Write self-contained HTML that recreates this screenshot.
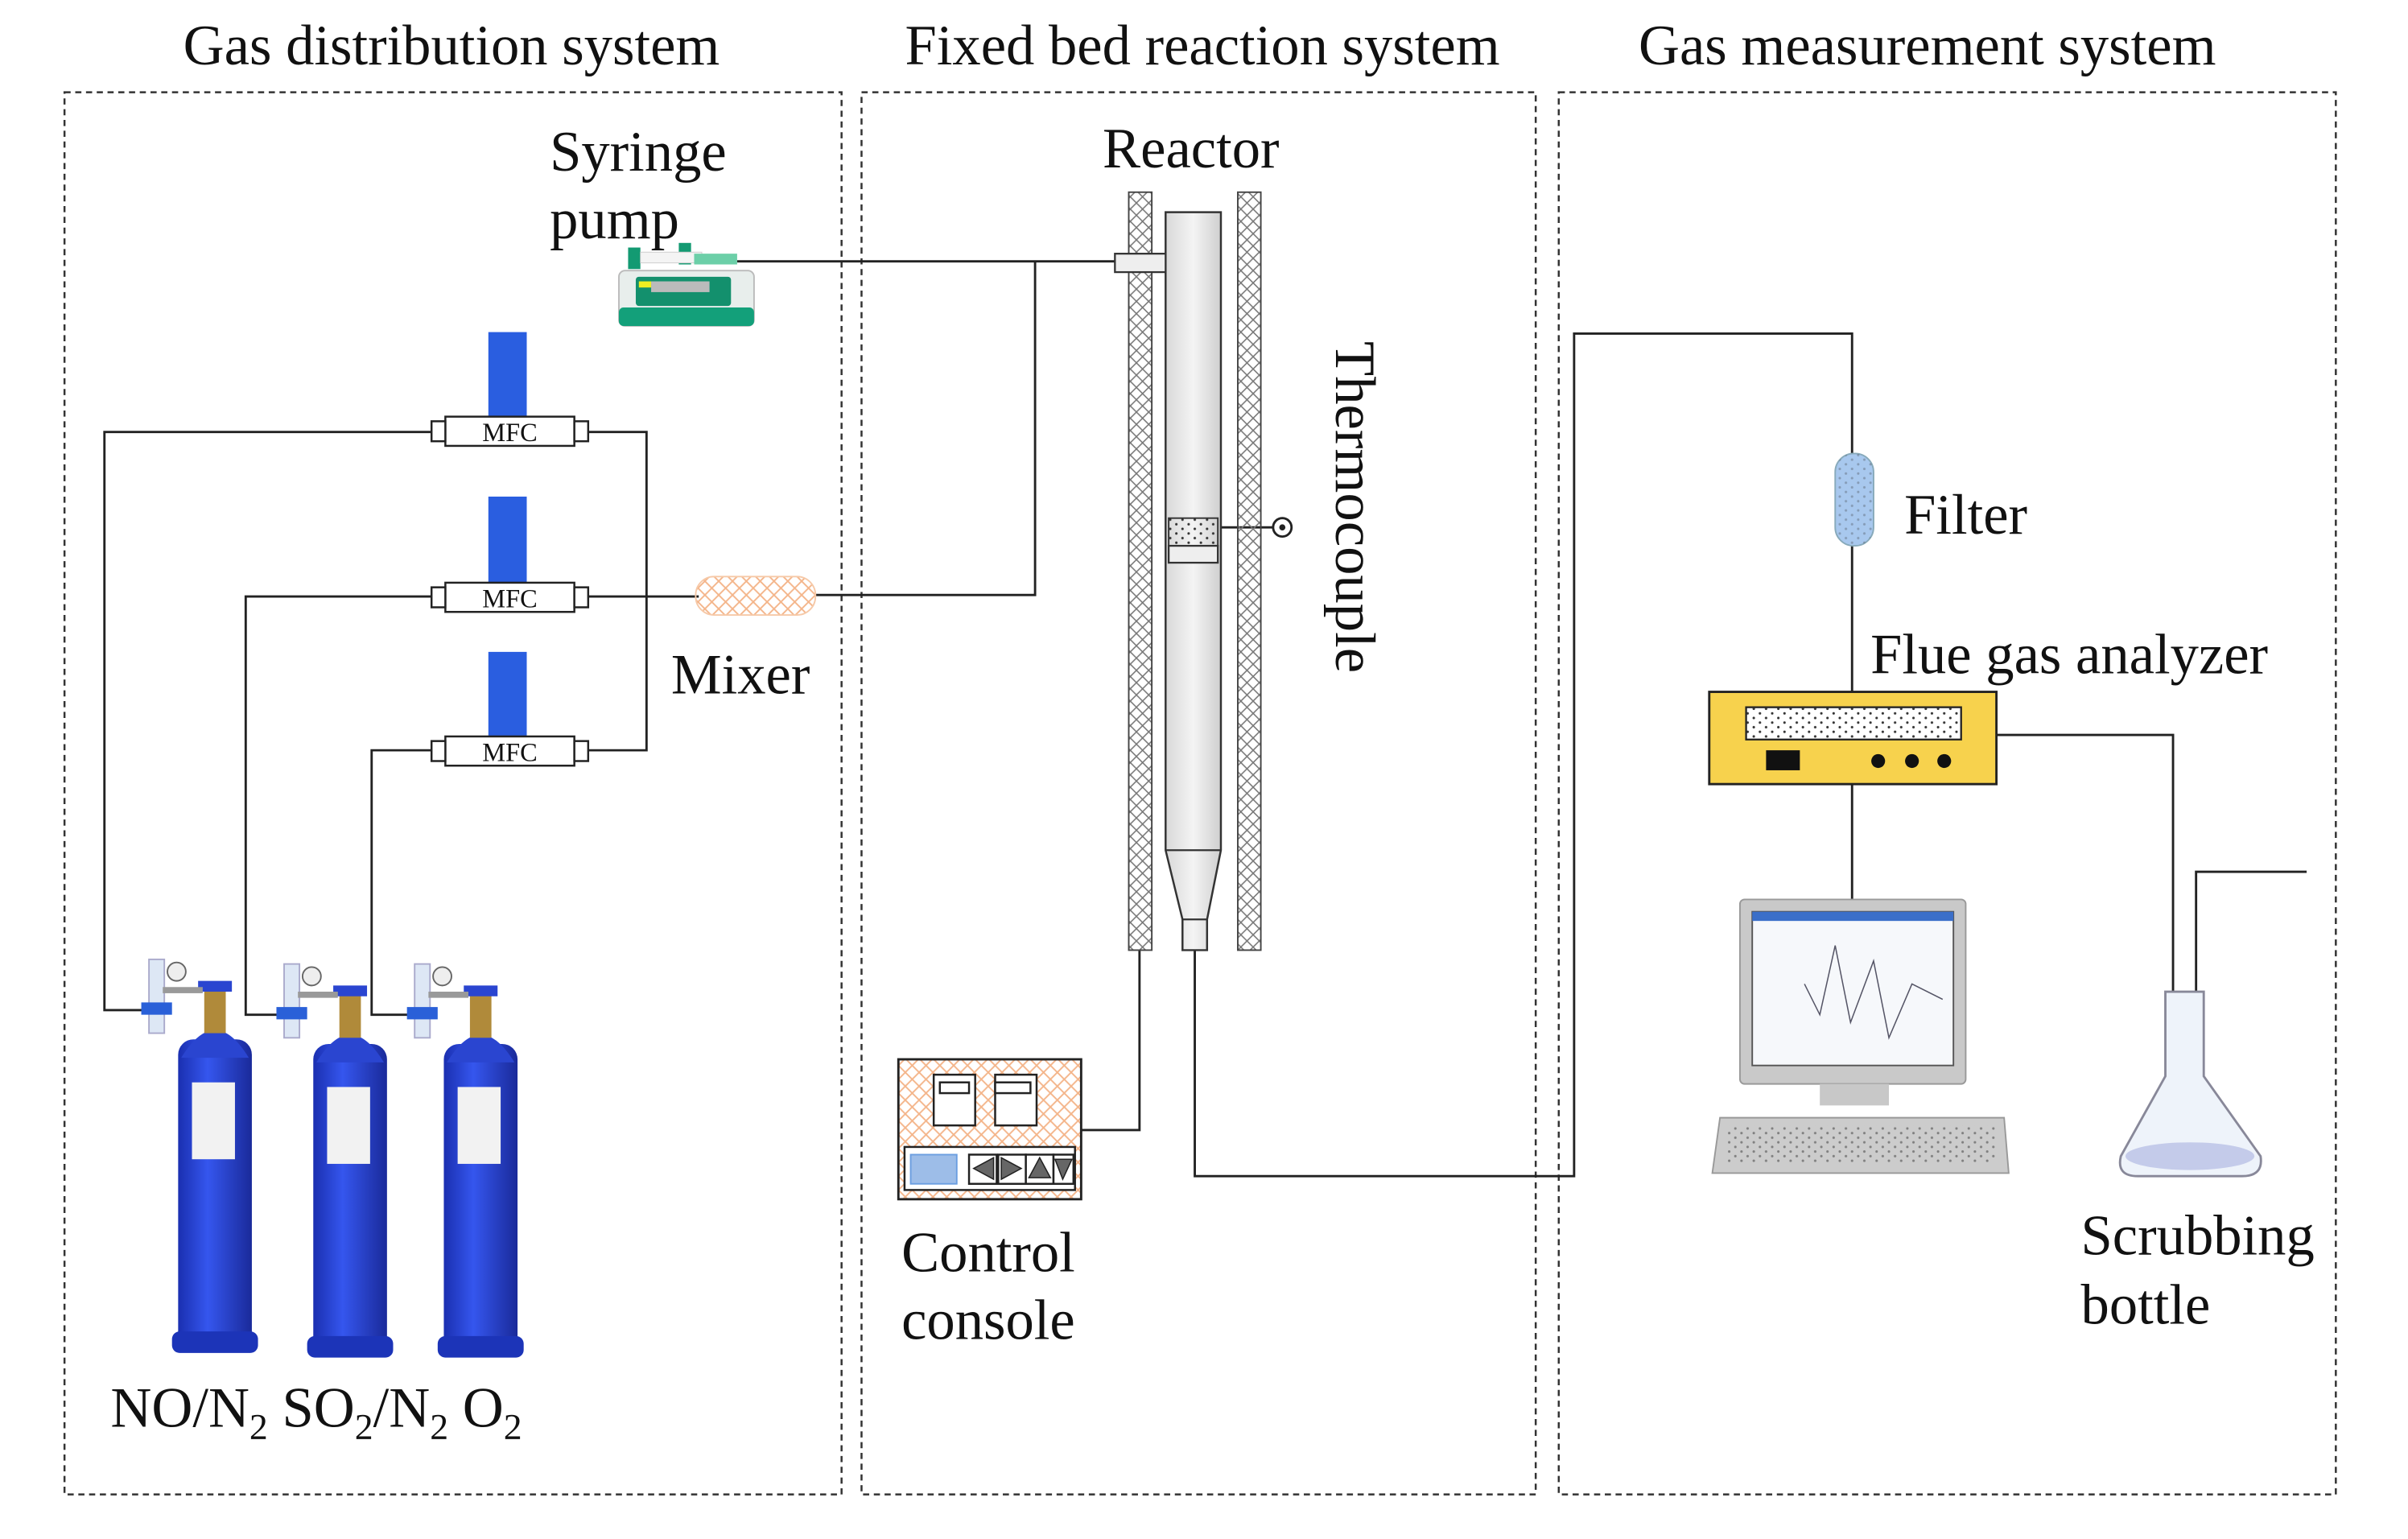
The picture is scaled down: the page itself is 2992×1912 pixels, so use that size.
<!DOCTYPE html>
<html><head><meta charset="utf-8"><style>
html,body{margin:0;padding:0;background:#fff;}
svg{display:block;}
text{font-family:"Liberation Serif",serif;fill:#111;}
</style></head><body>
<svg width="2992" height="1912" viewBox="0 0 1568 1001" preserveAspectRatio="none" xmlns="http://www.w3.org/2000/svg">
<defs>
<pattern id="hatch" width="8" height="8" patternUnits="userSpaceOnUse">
<path d="M0 0L8 8M8 0L0 8" stroke="#777" stroke-width="0.8"/>
</pattern>
<pattern id="ohatch" width="9" height="9" patternUnits="userSpaceOnUse">
<path d="M0 0L9 9M9 0L0 9" stroke="#f4b58a" stroke-width="1"/>
</pattern>
<pattern id="dots" width="8" height="6" patternUnits="userSpaceOnUse">
<circle cx="2" cy="2" r="0.8" fill="#333"/><circle cx="6" cy="5" r="0.8" fill="#333"/>
</pattern>
<linearGradient id="cyl" x1="0" x2="1">
<stop offset="0" stop-color="#1a2fb0"/><stop offset="0.4" stop-color="#3556ee"/><stop offset="1" stop-color="#1a2a9a"/>
</linearGradient>
<linearGradient id="tube" x1="0" x2="1">
<stop offset="0" stop-color="#d8d8d8"/><stop offset="0.5" stop-color="#f4f4f4"/><stop offset="1" stop-color="#cfcfcf"/>
</linearGradient>
</defs>

<g fill="none" stroke="#333" stroke-width="1.3" stroke-dasharray="4,3">
<rect x="42" y="60" width="506" height="912"/>
<rect x="561" y="60" width="439" height="912"/>
<rect x="1015" y="60" width="506" height="912"/>
</g>

<g font-size="37">
<text x="294" y="42" text-anchor="middle">Gas distribution system</text>
<text x="783" y="42" text-anchor="middle">Fixed bed reaction system</text>
<text x="1255" y="42" text-anchor="middle">Gas measurement system</text>
<text x="358" y="111">Syringe</text>
<text x="358" y="155">pump</text>
<text x="437" y="451">Mixer</text>
<text x="718" y="109">Reactor</text>
<text x="1240" y="347">Filter</text>
<text x="1218" y="438">Flue gas analyzer</text>
<text x="587" y="827">Control</text>
<text x="587" y="871">console</text>
<text x="1355" y="816">Scrubbing</text>
<text x="1355" y="861">bottle</text>
<text x="72" y="928">NO/N<tspan font-size="24" dy="8">2</tspan><tspan dy="-8"> SO</tspan><tspan font-size="24" dy="8">2</tspan><tspan dy="-8">/N</tspan><tspan font-size="24" dy="8">2</tspan><tspan dy="-8"> O</tspan><tspan font-size="24" dy="8">2</tspan></text>
<text transform="translate(870,222) rotate(90)">Thermocouple</text>
</g>

<g fill="none" stroke="#222" stroke-width="1.5">
<polyline points="281,281 68,281 68,657 100,657"/>
<polyline points="281,388 160,388 160,660 190,660"/>
<polyline points="281,488 242,488 242,660 275,660"/>
<polyline points="383,281 421,281 421,488 383,488"/>
<line x1="383" y1="388" x2="455" y2="388"/>
<polyline points="531,387 674,387 674,170"/>
<line x1="480" y1="170" x2="726" y2="170"/>
<polyline points="704,735 742,735 742,618"/>
<polyline points="778,618 778,765 1025,765 1025,217 1206,217 1206,296"/>
<line x1="1206" y1="355" x2="1206" y2="450"/>
<line x1="1206" y1="510" x2="1206" y2="585"/>
<polyline points="1300,478 1415,478 1415,690"/>
<polyline points="1430,700 1430,567 1502,567"/>
<line x1="795" y1="343" x2="830" y2="343"/>
</g>

<g stroke="#222" stroke-width="1.3">
<rect x="318" y="216" width="25" height="55" fill="#2a5ee0" stroke="none"/>
<rect x="318" y="323" width="25" height="56" fill="#2a5ee0" stroke="none"/>
<rect x="318" y="424" width="25" height="55" fill="#2a5ee0" stroke="none"/>
<g fill="#fff">
<rect x="290" y="271" width="84" height="19"/><rect x="281" y="274" width="9" height="13"/><rect x="374" y="274" width="9" height="13"/>
<rect x="290" y="379" width="84" height="19"/><rect x="281" y="382" width="9" height="13"/><rect x="374" y="382" width="9" height="13"/>
<rect x="290" y="479" width="84" height="19"/><rect x="281" y="482" width="9" height="13"/><rect x="374" y="482" width="9" height="13"/>
</g>
</g>
<g font-size="17" text-anchor="middle"><text x="332" y="287">MFC</text><text x="332" y="395">MFC</text><text x="332" y="495">MFC</text></g>

<rect x="453" y="375" width="78" height="25" rx="12" fill="url(#ohatch)" stroke="#f6c9a8" stroke-width="1"/>

<g>
<rect x="403" y="176" width="88" height="36" rx="4" fill="#e8eeec" stroke="#bbb"/>
<rect x="403" y="200" width="88" height="12" rx="3" fill="#13a07a"/>
<rect x="414" y="180" width="62" height="19" rx="2" fill="#13906d"/>
<rect x="424" y="183" width="38" height="7" fill="#bbb"/>
<rect x="416" y="183" width="8" height="4" fill="#ee2"/>
<rect x="409" y="161" width="8" height="14" fill="#139a72"/>
<rect x="442" y="158" width="8" height="14" fill="#139a72"/>
<rect x="417" y="164" width="40" height="7" fill="#f4f4f4" stroke="#ccc" stroke-width="0.5"/>
<rect x="452" y="165" width="28" height="7" fill="#6ccfa8"/>
</g>

<rect x="735" y="125" width="15" height="493" fill="url(#hatch)" stroke="#444" stroke-width="1"/>
<rect x="806" y="125" width="15" height="493" fill="url(#hatch)" stroke="#444" stroke-width="1"/>
<path d="M759 138 H795 V553 L786 598 V618 H770 V598 L759 553 Z" fill="url(#tube)" stroke="#333" stroke-width="1.3"/>
<line x1="759" y1="553" x2="795" y2="553" stroke="#333" stroke-width="1.2"/>
<line x1="770" y1="598" x2="786" y2="598" stroke="#333" stroke-width="1.2"/>
<rect x="726" y="165" width="33" height="12" fill="#eee" stroke="#333" stroke-width="1.2"/>
<rect x="761" y="337" width="32" height="18" fill="url(#dots)" stroke="#333" stroke-width="1"/>
<rect x="761" y="355" width="32" height="11" fill="#eee" stroke="#333" stroke-width="1.2"/>
<circle cx="835" cy="343" r="6" fill="#fff" stroke="#222" stroke-width="1.5"/>
<circle cx="835" cy="343" r="2" fill="#222"/>

<rect x="585" y="689" width="119" height="91" fill="url(#ohatch)" stroke="#222" stroke-width="1.5"/>
<g stroke="#222" stroke-width="1.3" fill="#fff">
<rect x="608" y="699" width="27" height="33"/><rect x="612" y="704" width="19" height="7"/>
<rect x="648" y="699" width="27" height="33"/><rect x="648" y="704" width="23" height="7"/>
<rect x="589" y="746" width="111" height="28"/>
<rect x="631" y="751" width="18" height="19"/><rect x="650" y="751" width="18" height="19"/><rect x="668" y="751" width="18" height="19"/><rect x="686" y="751" width="13" height="19"/>
</g>
<rect x="593" y="751" width="30" height="19" fill="#9dbde8" stroke="#6b9ee0"/>
<g fill="#666" stroke="#222" stroke-width="0.8">
<path d="M647 753 L634 760 L647 767Z"/><path d="M652 753 L665 760 L652 767Z"/><path d="M677 753 L670 766 L684 766Z"/><path d="M687 754 L698 754 L692 767Z"/>
</g>

<rect x="1195" y="295" width="25" height="60" rx="12" fill="#a8c8ee" stroke="#8ab"/>
<rect x="1195" y="295" width="25" height="60" rx="12" fill="url(#dots)" opacity="0.3"/>

<rect x="1113" y="450" width="187" height="60" fill="#f7d24d" stroke="#222" stroke-width="1.5"/>
<rect x="1137" y="460" width="140" height="21" fill="#fff" stroke="#222" stroke-width="1.2"/>
<rect x="1137" y="460" width="140" height="21" fill="url(#dots)"/>
<rect x="1150" y="488" width="22" height="13" fill="#111"/>
<circle cx="1223" cy="495" r="4.5" fill="#111"/><circle cx="1245" cy="495" r="4.5" fill="#111"/><circle cx="1266" cy="495" r="4.5" fill="#111"/>

<rect x="1133" y="585" width="147" height="120" rx="3" fill="#c9c9c9" stroke="#999"/>
<rect x="1141" y="593" width="131" height="100" fill="#f6f8fb" stroke="#555"/>
<rect x="1141" y="593" width="131" height="6" fill="#3b6fc9"/>
<path d="M1175 640 L1185 660 L1195 615 L1205 665 L1220 625 L1230 675 L1245 640 L1265 650" fill="none" stroke="#556" stroke-width="0.8"/>
<rect x="1185" y="705" width="45" height="14" fill="#c8c8c8"/>
<path d="M1120 727 H1305 L1308 763 H1115 Z" fill="#ccc" stroke="#999"/>
<rect x="1125" y="732" width="175" height="24" fill="url(#dots)" opacity="0.5"/>

<path d="M1410 645 H1435 V700 L1472 752 Q1474 765 1460 765 H1392 Q1378 765 1381 752 L1410 700 Z" fill="#eef3fa" stroke="#889" stroke-width="1.5"/>
<ellipse cx="1426" cy="752" rx="42" ry="9" fill="#c4cbea"/>

<g id="c1">
<rect x="116" y="676" width="48" height="200" rx="10" fill="url(#cyl)"/>
<path d="M118 688 Q140 652 162 688Z" fill="#2a45d0"/>
<rect x="133" y="644" width="14" height="28" fill="#b08a3a"/><rect x="129" y="638" width="22" height="7" fill="#2a45d0"/>
<rect x="97" y="624" width="10" height="48" fill="#dde7f5" stroke="#aac"/>
<rect x="92" y="652" width="20" height="8" fill="#2a60d8"/>
<rect x="106" y="642" width="26" height="4" fill="#999"/>
<circle cx="115" cy="632" r="6" fill="#eee" stroke="#666"/>
<rect x="125" y="704" width="28" height="50" fill="#f2f2f2"/>
<rect x="112" y="866" width="56" height="14" rx="5" fill="#1c34b8"/>
</g>
<use href="#c1" transform="translate(88,3)"/>
<use href="#c1" transform="translate(173,3)"/>
</svg>
</body></html>
